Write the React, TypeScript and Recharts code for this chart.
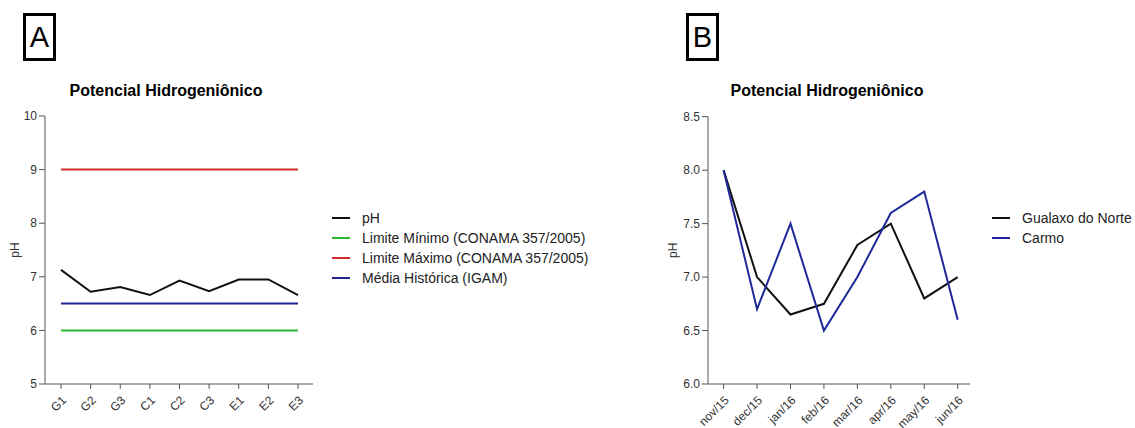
import React from "react";
import { LineChart, Line, XAxis, YAxis, Legend } from "recharts";

// Painel A - pontos de coleta
const sitesA = ["G1", "G2", "G3", "C1", "C2", "C3", "E1", "E2", "E3"];
const phA = [7.13, 6.72, 6.81, 6.66, 6.93, 6.73, 6.95, 6.95, 6.66];
const limiteMinimo = [6, 6, 6, 6, 6, 6, 6, 6, 6];
const limiteMaximo = [9, 9, 9, 9, 9, 9, 9, 9, 9];
const mediaHistorica = [6.5, 6.5, 6.5, 6.5, 6.5, 6.5, 6.5, 6.5, 6.5];
const ticksA = [5, 6, 7, 8, 9, 10];
const legendOrderA = ["pH", "Limite Mínimo (CONAMA 357/2005)", "Limite Máximo (CONAMA 357/2005)", "Média Histórica (IGAM)"];

// Painel B - meses
const monthsB = ["nov/15", "dec/15", "jan/16", "feb/16", "mar/16", "apr/16", "may/16", "jun/16"];
const gualaxo = [8.0, 7.0, 6.65, 6.75, 7.3, 7.5, 6.8, 7.0];
const carmo = [8.0, 6.7, 7.5, 6.5, 7.0, 7.6, 7.8, 6.6];
const ticksB = [6.0, 6.5, 7.0, 7.5, 8.0, 8.5];
const legendOrderB = ["Gualaxo do Norte", "Carmo"];

const dataA = sitesA.map((s, i) => ({
  site: s,
  ph: phA[i],
  min: limiteMinimo[i],
  max: limiteMaximo[i],
  media: mediaHistorica[i],
}));

const dataB = monthsB.map((m, i) => ({ month: m, gualaxo: gualaxo[i], carmo: carmo[i] }));

const FONT = "'Liberation Sans', Arial, sans-serif";
const AXIS = "#555";

const AngledTick = (props: any) => {
  const { x, y, payload } = props;
  return (
    <g transform={`translate(${x + 6},${y + 10})`}>
      <text x={0} y={0} textAnchor="end" fill="#333" fontSize={12} fontFamily={FONT} transform="rotate(-45)">
        {payload.value}
      </text>
    </g>
  );
};

const makeLegend = (order: string[]) => (props: any) => {
  const payload = [...(props.payload || [])].sort(
    (a: any, b: any) => order.indexOf(a.value) - order.indexOf(b.value)
  );
  return (
    <div style={{ fontFamily: FONT, fontSize: 14, color: "#222" }}>
      {payload.map((entry: any) => (
        <div key={entry.value} style={{ height: 20, display: "flex", alignItems: "center" }}>
          <svg width={18} height={4} style={{ marginRight: 12 }}>
            <line x1={0} y1={2} x2={18} y2={2} stroke={entry.color} strokeWidth={2} />
          </svg>
          <span>{entry.value}</span>
        </div>
      ))}
    </div>
  );
};

const boxStyle = (left: number): React.CSSProperties => ({
  position: "absolute",
  left,
  top: 13,
  width: 27,
  height: 42,
  border: "3px solid #000",
  fontFamily: FONT,
  fontSize: 29,
  lineHeight: "42px",
  textAlign: "center",
});

const titleStyle = (center: number): React.CSSProperties => ({
  position: "absolute",
  left: center - 150,
  width: 300,
  top: 82,
  textAlign: "center",
  fontFamily: FONT,
  fontWeight: "bold",
  fontSize: 16,
});

export default function App() {
  return (
    <div style={{ position: "absolute", left: 0, top: 0, width: 1135, height: 428, background: "#fff" }}>
      <div style={boxStyle(23)}>A</div>
      <div style={boxStyle(686)}>B</div>
      <div style={titleStyle(166)}>Potencial Hidrogeniônico</div>
      <div style={titleStyle(827)}>Potencial Hidrogeniônico</div>

      <div style={{ position: "absolute", left: 0, top: 0 }}>
        <LineChart width={640} height={428} data={dataA} margin={{ top: 116, right: 327, bottom: 0, left: 0 }}>
          <XAxis
            dataKey="site"
            height={44}
            padding={{ left: 16, right: 15 }}
            tickSize={5}
            stroke={AXIS}
            tick={<AngledTick />}
            interval={0}
          />
          <YAxis
            domain={[5, 10]}
            ticks={ticksA}
            width={45}
            tickSize={6}
            stroke={AXIS}
            tick={{ fill: "#333", fontSize: 12, fontFamily: FONT }}
            label={{ value: "pH", angle: -90, position: "insideLeft", offset: 15, fill: "#333", fontSize: 12, fontFamily: FONT, style: { textAnchor: "middle" } }}
          />
          <Line dataKey="ph" name="pH" stroke="#111" strokeWidth={2} dot={false} isAnimationActive={false} />
          <Line dataKey="min" name="Limite Mínimo (CONAMA 357/2005)" stroke="#2eb82e" strokeWidth={2} dot={false} isAnimationActive={false} />
          <Line dataKey="max" name="Limite Máximo (CONAMA 357/2005)" stroke="#d42a2a" strokeWidth={2} dot={false} isAnimationActive={false} />
          <Line dataKey="media" name="Média Histórica (IGAM)" stroke="#22258f" strokeWidth={2} dot={false} isAnimationActive={false} />
          <Legend
            layout="horizontal"
            align="center"
            verticalAlign="middle"
            content={makeLegend(legendOrderA)}
            wrapperStyle={{ left: 332, top: 208, width: 300 }}
          />
        </LineChart>
      </div>

      <div style={{ position: "absolute", left: 650, top: 0 }}>
        <LineChart width={485} height={428} data={dataB} margin={{ top: 116.7, right: 165, bottom: 0, left: 0 }}>
          <XAxis
            dataKey="month"
            height={44}
            padding={{ left: 15.6, right: 12.3 }}
            tickSize={5}
            stroke={AXIS}
            tick={<AngledTick />}
            interval={0}
          />
          <YAxis
            domain={[6, 8.5]}
            ticks={ticksB}
            width={58}
            tickSize={6}
            stroke={AXIS}
            tickFormatter={(v: number) => v.toFixed(1)}
            tick={{ fill: "#333", fontSize: 12, fontFamily: FONT }}
            label={{ value: "pH", angle: -90, position: "insideLeft", offset: 23, fill: "#333", fontSize: 12, fontFamily: FONT, style: { textAnchor: "middle" } }}
          />
          <Line dataKey="gualaxo" name="Gualaxo do Norte" stroke="#111" strokeWidth={2} dot={false} isAnimationActive={false} />
          <Line dataKey="carmo" name="Carmo" stroke="#1f2a9a" strokeWidth={2} dot={false} isAnimationActive={false} />
          <Legend
            layout="horizontal"
            align="center"
            verticalAlign="middle"
            content={makeLegend(legendOrderB)}
            wrapperStyle={{ left: 342, top: 208, width: 150 }}
          />
        </LineChart>
      </div>
    </div>
  );
}
